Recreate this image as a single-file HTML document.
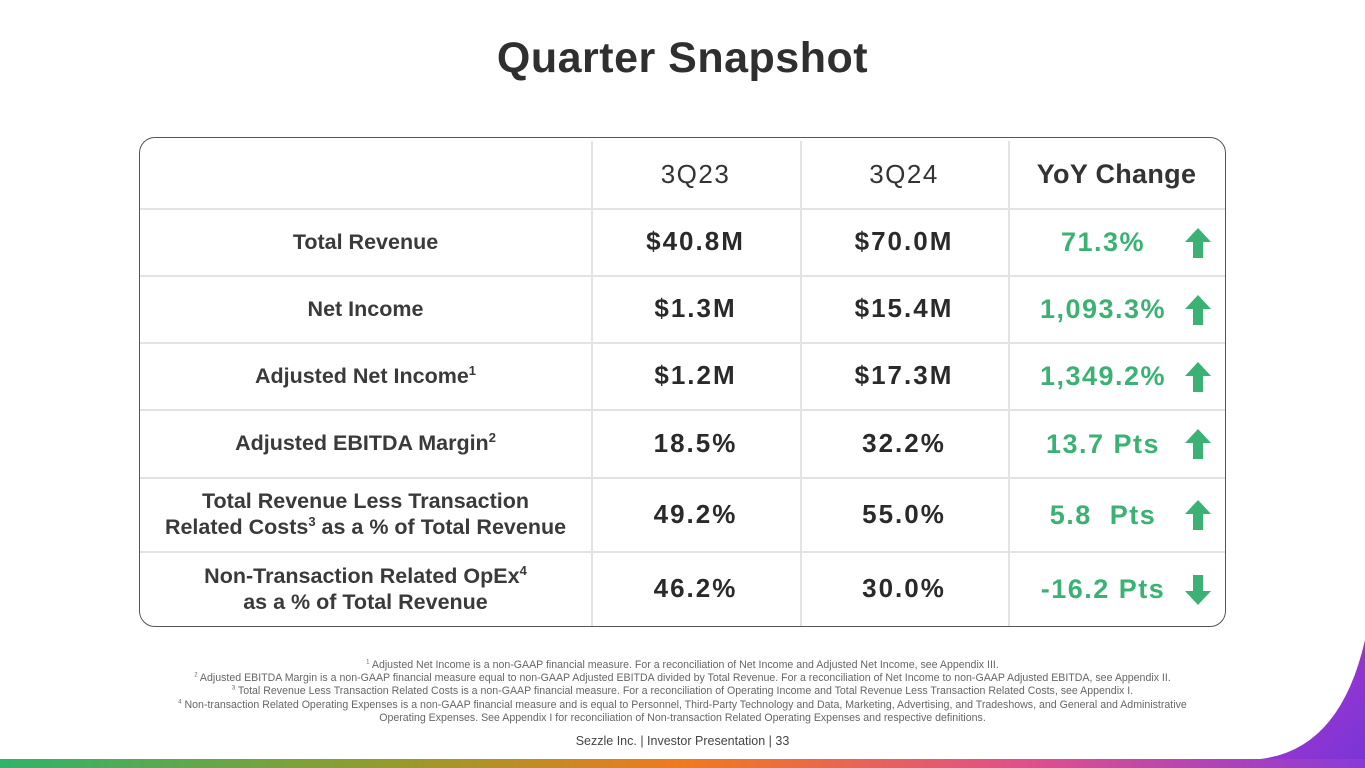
<!DOCTYPE html>
<html><head><meta charset="utf-8">
<style>
body{margin:0;width:1365px;height:768px;overflow:hidden;background:#fff;font-family:"Liberation Sans",sans-serif;position:relative;color:#333}
.abs{position:absolute}
#title{left:0;width:1365px;top:34px;text-align:center;font-size:43px;font-weight:bold;color:#2f2f2f;letter-spacing:0.5px}
#box{left:139px;top:137px;width:1087px;height:490px;border:1.5px solid #555;border-radius:16px;box-sizing:border-box}
.hl{height:1.5px;background:#e3e3e3;left:140px;width:1085px}
.vl{width:1.5px;background:#e3e3e3;top:141px;height:485px}
.cell{display:flex;align-items:center;justify-content:center;text-align:center}
.lab{font-size:21.5px;font-weight:bold;color:#3a3a3a;line-height:26px}
.val{font-size:26px;font-weight:bold;color:#2a2a2a;letter-spacing:2px}
.hdr{font-size:26px;color:#333;letter-spacing:1.5px}
.chg{font-size:27px;font-weight:bold;color:#3bb273;letter-spacing:1.5px}
sup{font-size:13px;line-height:0;vertical-align:super}
#foot{left:0;width:1365px;top:659px;text-align:center;font-size:10.6px;color:#666;line-height:13.2px}
#foot sup{font-size:6px}
#brand{left:0;width:1365px;top:734px;text-align:center;font-size:12.5px;color:#444}
</style></head><body>
<div id="title" class="abs">Quarter Snapshot</div>
<svg class="abs" style="left:0;top:0" width="1365" height="768">
<defs><linearGradient id="g" x1="0" x2="1"><stop offset="0" stop-color="#2fb36a"/><stop offset="0.3" stop-color="#9a9a2a"/><stop offset="0.5" stop-color="#f07a1e"/><stop offset="0.75" stop-color="#e0508a"/><stop offset="1" stop-color="#8a3ad8"/></linearGradient>
<linearGradient id="p" x1="0" y1="0" x2="1" y2="1"><stop offset="0" stop-color="#b035c8"/><stop offset="1" stop-color="#7a35d8"/></linearGradient></defs>
<rect x="0" y="759" width="1365" height="9" fill="url(#g)"/>
<path d="M1365 640 Q1340 750 1260 759 L1365 759 Z" fill="url(#p)"/>
</svg>
<div id="box" class="abs"></div>
<div id="tbl"></div>
<div id="foot" class="abs">
<sup>1</sup> Adjusted Net Income is a non-GAAP financial measure. For a reconciliation of Net Income and Adjusted Net Income, see Appendix III.<br>
<sup>2</sup> Adjusted EBITDA Margin is a non-GAAP financial measure equal to non-GAAP Adjusted EBITDA divided by Total Revenue. For a reconciliation of Net Income to non-GAAP Adjusted EBITDA, see Appendix II.<br>
<sup>3</sup> Total Revenue Less Transaction Related Costs is a non-GAAP financial measure. For a reconciliation of Operating Income and Total Revenue Less Transaction Related Costs, see Appendix I.<br>
<sup>4</sup> Non-transaction Related Operating Expenses is a non-GAAP financial measure and is equal to Personnel, Third-Party Technology and Data, Marketing, Advertising, and Tradeshows, and General and Administrative<br>Operating Expenses. See Appendix I for reconciliation of Non-transaction Related Operating Expenses and respective definitions.</div>
<div id="brand" class="abs">Sezzle Inc. | Investor Presentation | 33</div>
<script>
const headers=["3Q23","3Q24","YoY Change"];
const labels=["Total Revenue","Net Income","Adjusted Net Income<sup>1</sup>","Adjusted EBITDA Margin<sup>2</sup>","Total Revenue Less Transaction<br>Related Costs<sup>3</sup> as a % of Total Revenue","Non-Transaction Related OpEx<sup>4</sup><br>as a % of Total Revenue"];
const q23=["$40.8M","$1.3M","$1.2M","18.5%","49.2%","46.2%"];
const q24=["$70.0M","$15.4M","$17.3M","32.2%","55.0%","30.0%"];
const yoy=["71.3%","1,093.3%","1,349.2%","13.7 Pts","5.8  Pts","-16.2 Pts"];
const dir=["up","up","up","up","up","down"];
const rowTops=[141,208,275,342,409,477,551,626];
const colX=[140,591,800,1008,1225];
const T=document.getElementById('tbl');
function cell(x,y,w,h,html,cls){const d=document.createElement('div');d.className='abs cell '+cls;d.style.left=x+'px';d.style.top=y+'px';d.style.width=w+'px';d.style.height=h+'px';d.innerHTML='<span>'+html+'</span>';T.appendChild(d);return d;}
for(let i=1;i<rowTops.length-1;i++){const l=document.createElement('div');l.className='abs hl';l.style.top=rowTops[i]+'px';


T.appendChild(l);}
for(let j=1;j<4;j++){const l=document.createElement('div');l.className='abs vl';l.style.left=colX[j]+'px';


T.appendChild(l);}
headers.forEach((h,j)=>{const c=cell(colX[j+1],rowTops[0],colX[j+2]-colX[j+1],rowTops[1]-rowTops[0],h,'hdr');if(j==2){c.style.fontWeight='bold';c.style.letterSpacing='0.3px';c.style.fontSize='27px';}

});
labels.forEach((lb,i)=>{const y=rowTops[i+1],h=rowTops[i+2]-y;
let c=cell(colX[0],y,colX[1]-colX[0],h,lb,'lab');


c=cell(colX[1],y,colX[2]-colX[1],h,q23[i],'val');


c=cell(colX[2],y,colX[3]-colX[2],h,q24[i],'val');


c=cell(colX[3]+5,y+1,180,h,yoy[i].replace('  ','&nbsp; '),'chg');


const cy=y+h/2+1;
const a=document.createElementNS('http://www.w3.org/2000/svg','svg');
a.setAttribute('width','28');a.setAttribute('height','32');
a.style.position='absolute';a.style.left='1184px';a.style.top=(cy-16)+'px';
a.innerHTML=dir[i]=='up'?'<path d="M14 1 L27 15 L19 15 L19 31 L9 31 L9 15 L1 15 Z" fill="#3bb273"/>':'<path d="M14 31 L27 17 L19 17 L19 1 L9 1 L9 17 L1 17 Z" fill="#3bb273"/>';


T.appendChild(a);
});
</script>
</body></html>
